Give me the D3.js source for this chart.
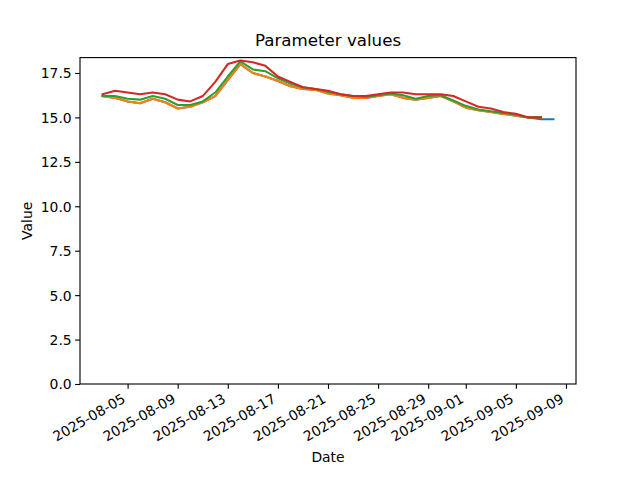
<!DOCTYPE html>
<html>
<head>
<meta charset="utf-8">
<script src="https://cdn.jsdelivr.net/npm/d3@7"></script>
<style>
  html, body { margin: 0; padding: 0; background: #fff; }
  svg { display: block; }
  text { font-family: "DejaVu Sans", sans-serif; fill: #000; }
</style>
</head>
<body>
<svg id="chart" width="640" height="480"></svg>
<script>
// ---- data ----
const dates = [
  "2025-08-03","2025-08-04","2025-08-05","2025-08-06","2025-08-07","2025-08-08","2025-08-09",
  "2025-08-10","2025-08-11","2025-08-12","2025-08-13","2025-08-14","2025-08-15","2025-08-16",
  "2025-08-17","2025-08-18","2025-08-19","2025-08-20","2025-08-21","2025-08-22","2025-08-23",
  "2025-08-24","2025-08-25","2025-08-26","2025-08-27","2025-08-28","2025-08-29","2025-08-30",
  "2025-08-31","2025-09-01","2025-09-02","2025-09-03","2025-09-04","2025-09-05","2025-09-06",
  "2025-09-07","2025-09-08"
];
const seriesBlue = [
  16.2,16.1,15.9,15.8,16.05,15.85,15.5,15.6,15.85,16.2,17.1,18.0,17.5,17.3,
  17.05,16.75,16.6,16.55,16.35,16.25,16.1,16.1,16.2,16.3,16.1,16.0,16.1,16.2,
  15.9,15.55,15.4,15.3,15.2,15.1,15.0,14.9,14.9
];
const seriesOrange = [
  16.2,16.1,15.9,15.8,16.05,15.85,15.5,15.6,15.85,16.2,17.1,18.0,17.5,17.3,
  17.05,16.75,16.6,16.55,16.35,16.25,16.1,16.1,16.2,16.3,16.1,16.0,16.1,16.2,
  15.9,15.55,15.4,15.3,15.2,15.1,15.0,15.0
];
const seriesGreen = [
  16.2,16.2,16.05,16.0,16.2,16.05,15.7,15.7,15.9,16.4,17.3,18.15,17.7,17.6,
  17.2,16.9,16.7,16.6,16.45,16.3,16.2,16.15,16.25,16.35,16.25,16.05,16.2,16.25,
  15.95,15.65,15.45,15.35,15.25,15.15,15.0,15.0
];
const seriesRed = [
  16.3,16.5,16.4,16.3,16.4,16.3,16.0,15.9,16.2,17.0,18.0,18.2,18.1,17.9,
  17.3,17.0,16.7,16.6,16.5,16.3,16.2,16.2,16.3,16.4,16.4,16.3,16.3,16.3,
  16.2,15.9,15.6,15.5,15.3,15.2,15.0,15.0
];
const seriesColors = ["#1f77b4","#ff7f0e","#2ca02c","#d62728"];
const xTickLabels = ["2025-08-05","2025-08-09","2025-08-13","2025-08-17","2025-08-21",
                     "2025-08-25","2025-08-29","2025-09-01","2025-09-05","2025-09-09"];
const yTickValues = [0,2.5,5,7.5,10,12.5,15,17.5];
const titleText = "Parameter values";
const xLabelText = "Date";
const yLabelText = "Value";

// ---- layout ----
const W = 640, H = 480;
const mLeft = 80, mRight = 576, mTop = 57.6, mBottom = 384;
const parse = d3.utcParse("%Y-%m-%d");
const fmt = d3.utcFormat("%Y-%m-%d");
const allSeries = [seriesBlue, seriesOrange, seriesGreen, seriesRed];

const dDates = dates.map(parse);
const t0 = +dDates[0], t1 = +dDates[dDates.length - 1];
const span = t1 - t0;
const x = d3.scaleUtc()
  .domain([new Date(t0 - 0.05 * span), new Date(t1 + 0.05 * span)])
  .range([mLeft, mRight]);

const allVals = allSeries.flat();
const vMin = d3.min(allVals), vMax = d3.max(allVals);
const y = d3.scaleLinear()
  .domain([0, vMax + 0.05 * (vMax - vMin)])
  .range([mBottom, mTop]);

const svg = d3.select("#chart");
svg.append("rect").attr("width", W).attr("height", H).attr("fill", "#fff");

// lines
const line = d3.line()
  .x((d, i) => x(dDates[i]))
  .y(d => y(d));
const plot = svg.append("g");
allSeries.forEach((s, k) => {
  plot.append("path")
    .datum(s)
    .attr("d", line)
    .attr("fill", "none")
    .attr("stroke", seriesColors[k])
    .attr("stroke-width", 2.08)
    .attr("stroke-linejoin", "round")
    .attr("stroke-linecap", "square");
});

// axes
const tickLen = 4.86;
const fontSize = 13.9;

const xAxis = d3.axisBottom(x)
  .tickValues(xTickLabels.map(parse))
  .tickFormat(fmt)
  .tickSizeInner(tickLen)
  .tickSizeOuter(0)
  .tickPadding(3.5);
const gx = svg.append("g").attr("transform", `translate(0,${mBottom})`).call(xAxis);
gx.select(".domain").remove();
gx.selectAll(".tick line").attr("stroke", "#000").attr("stroke-width", 1.11);
gx.selectAll(".tick text")
  .attr("font-size", fontSize)
  .attr("font-family", "DejaVu Sans")
  .attr("fill", "#000")
  .attr("text-anchor", "end")
  .attr("dy", null)
  .attr("y", null)
  .attr("transform", `translate(-1.6,17.5) rotate(-30)`);

const yAxis = d3.axisLeft(y)
  .tickValues(yTickValues)
  .tickFormat(d3.format(".1f"))
  .tickSizeInner(tickLen)
  .tickSizeOuter(0)
  .tickPadding(3.5);
const gy = svg.append("g").attr("transform", `translate(${mLeft},0)`).call(yAxis);
gy.select(".domain").remove();
gy.selectAll(".tick line").attr("stroke", "#000").attr("stroke-width", 1.11);
gy.selectAll(".tick text")
  .attr("font-size", fontSize)
  .attr("font-family", "DejaVu Sans")
  .attr("fill", "#000")
  .attr("dy", "0.35em");

// frame (spines)
svg.append("rect")
  .attr("x", mLeft).attr("y", mTop)
  .attr("width", mRight - mLeft).attr("height", mBottom - mTop)
  .attr("fill", "none").attr("stroke", "#000").attr("stroke-width", 1.11);

// title and labels
svg.append("text")
  .attr("x", (mLeft + mRight) / 2).attr("y", 45.5)
  .attr("text-anchor", "middle")
  .attr("font-size", 16.67)
  .text(titleText);
svg.append("text")
  .attr("x", (mLeft + mRight) / 2).attr("y", 462)
  .attr("text-anchor", "middle")
  .attr("font-size", fontSize)
  .text(xLabelText);
svg.append("text")
  .attr("transform", `translate(31.5,${(mTop + mBottom) / 2}) rotate(-90)`)
  .attr("text-anchor", "middle")
  .attr("font-size", fontSize)
  .text(yLabelText);
</script>
</body>
</html>
